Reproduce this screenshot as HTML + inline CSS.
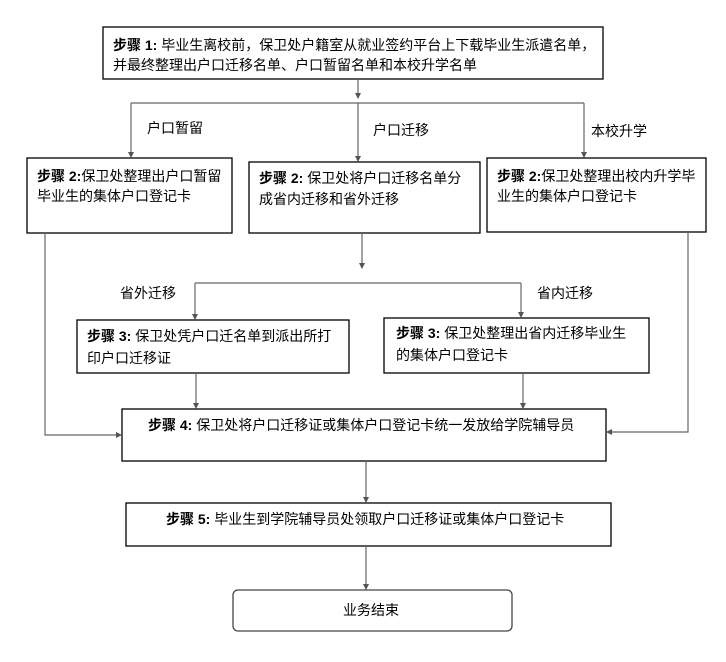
<!DOCTYPE html>
<html><head><meta charset="utf-8"><style>
html,body{margin:0;padding:0;background:#fff;}
svg text{font-family:"Liberation Sans","Noto Sans CJK SC",sans-serif;font-size:14px;fill:#000;}
.b{font-weight:bold;}
</style></head><body>
<svg width="726" height="657" viewBox="0 0 726 657" xmlns="http://www.w3.org/2000/svg">
<defs><marker id="a" markerWidth="6" markerHeight="6" refX="5" refY="3" orient="auto" markerUnits="userSpaceOnUse"><path d="M0,0 L6,3 L0,6 z" fill="#555"/></marker></defs>
<g fill="#fff" stroke="#000" stroke-width="1.3">
<rect x="103" y="27" width="500" height="52"/>
<rect x="27" y="158" width="205" height="75"/>
<rect x="249" y="162" width="231" height="71"/>
<rect x="487" y="158" width="219" height="74"/>
<rect x="77" y="320" width="272" height="53"/>
<rect x="384" y="318" width="265" height="55"/>
<rect x="122" y="409" width="484" height="52"/>
<rect x="126" y="503" width="485" height="43"/>
<rect x="233" y="590" width="279" height="41" rx="5" stroke="#444"/>
</g>
<g stroke="#666" stroke-width="1.2" fill="none">
<line x1="358" y1="79" x2="358" y2="98" marker-end="url(#a)"/>
<line x1="131" y1="103" x2="584" y2="103"/>
<line x1="131" y1="103" x2="131" y2="157" marker-end="url(#a)"/>
<line x1="358" y1="103" x2="358" y2="161" marker-end="url(#a)"/>
<line x1="584" y1="103" x2="584" y2="157" marker-end="url(#a)"/>
<polyline points="45,233 45,435 121,435" marker-end="url(#a)"/>
<polyline points="688,232 688,432 607,432" marker-end="url(#a)"/>
<line x1="362" y1="233" x2="362" y2="268" marker-end="url(#a)"/>
<line x1="195" y1="283" x2="521" y2="283"/>
<line x1="195" y1="283" x2="195" y2="319" marker-end="url(#a)"/>
<line x1="521" y1="283" x2="521" y2="317" marker-end="url(#a)"/>
<line x1="196" y1="373" x2="196" y2="408" marker-end="url(#a)"/>
<line x1="523" y1="373" x2="523" y2="408" marker-end="url(#a)"/>
<line x1="366" y1="461" x2="366" y2="502" marker-end="url(#a)"/>
<line x1="366" y1="546" x2="366" y2="589" marker-end="url(#a)"/>
</g>
<text x="113" y="50"><tspan class="b">步骤 1:</tspan> 毕业生离校前，保卫处户籍室从就业签约平台上下载毕业生派遣名单，</text>
<text x="113" y="70">并最终整理出户口迁移名单、户口暂留名单和本校升学名单</text>
<text x="147" y="133">户口暂留</text>
<text x="373" y="135">户口迁移</text>
<text x="591" y="136">本校升学</text>
<text x="37" y="181"><tspan class="b">步骤 2:</tspan>保卫处整理出户口暂留</text>
<text x="37" y="201">毕业生的集体户口登记卡</text>
<text x="259" y="183"><tspan class="b">步骤 2:</tspan> 保卫处将户口迁移名单分</text>
<text x="259" y="204">成省内迁移和省外迁移</text>
<text x="497" y="181"><tspan class="b">步骤 2:</tspan>保卫处整理出校内升学毕</text>
<text x="497" y="201">业生的集体户口登记卡</text>
<text x="120" y="298">省外迁移</text>
<text x="537" y="298">省内迁移</text>
<text x="87" y="341"><tspan class="b">步骤 3:</tspan> 保卫处凭户口迁名单到派出所打</text>
<text x="87" y="363">印户口迁移证</text>
<text x="396" y="338"><tspan class="b">步骤 3:</tspan> 保卫处整理出省内迁移毕业生</text>
<text x="396" y="360">的集体户口登记卡</text>
<text x="148" y="430"><tspan class="b">步骤 4:</tspan> 保卫处将户口迁移证或集体户口登记卡统一发放给学院辅导员</text>
<text x="166" y="524"><tspan class="b">步骤 5:</tspan> 毕业生到学院辅导员处领取户口迁移证或集体户口登记卡</text>
<text x="343" y="615">业务结束</text>
</svg>
</body></html>
